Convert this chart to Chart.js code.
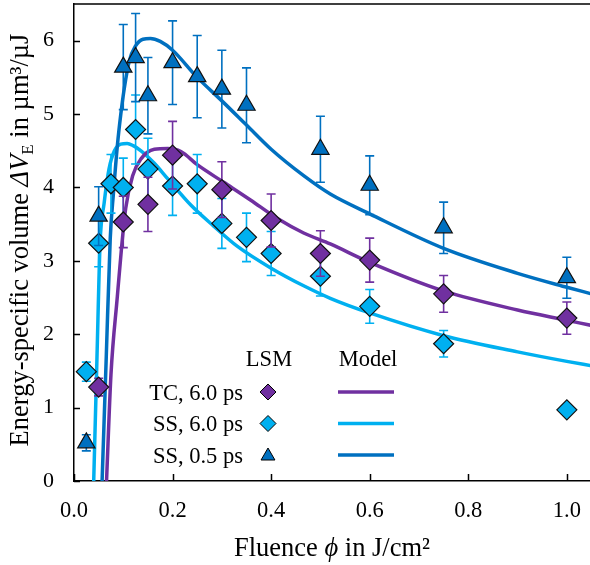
<!DOCTYPE html>
<html>
<head>
<meta charset="utf-8">
<script src="https://cdn.jsdelivr.net/npm/chart.js@4.4.0/dist/chart.umd.min.js"></script>
<style>
  body { margin: 0; background: #fff; }
</style>
</head>
<body>
<canvas id="chart" width="590" height="565"></canvas>
<script>
// series names / colours
const seriesNames = ['TC, 6.0 ps', 'SS, 6.0 ps', 'SS, 0.5 ps'];
const seriesColors = ['#7030A0', '#00B0F0', '#0070C0'];

// LSM measurements (fluence in J/cm², volume in µm³/µJ, error = half bar)
const tcX   = [0.05, 0.1, 0.15, 0.2, 0.3, 0.4, 0.5, 0.6, 0.75, 1.0];
const tcY   = [1.28, 3.53, 3.77, 4.44, 3.97, 3.55, 3.10, 3.01, 2.55, 2.22];
const tcErr = [0.12, 0.35, 0.37, 0.46, 0.38, 0.36, 0.31, 0.30, 0.25, 0.22];

const ss6X   = [0.025, 0.05, 0.075, 0.1, 0.125, 0.15, 0.2, 0.25, 0.3, 0.35, 0.4, 0.5, 0.6, 0.75, 1.0];
const ss6Y   = [1.49, 3.24, 4.05, 4.00, 4.79, 4.25, 4.02, 4.05, 3.51, 3.32, 3.10, 2.79, 2.38, 1.87, 0.97];
const ss6Err = [0.13, 0.32, 0.40, 0.40, 0.47, 0.42, 0.40, 0.40, 0.34, 0.33, 0.30, 0.27, 0.23, 0.18, 0.06];

const ss05X   = [0.025, 0.05, 0.1, 0.125, 0.15, 0.2, 0.25, 0.3, 0.35, 0.5, 0.6, 0.75, 1.0];
const ss05Y   = [0.52, 3.61, 5.64, 5.77, 5.25, 5.70, 5.51, 5.34, 5.12, 4.52, 4.03, 3.45, 2.77];
const ss05Err = [0.11, 0.40, 0.58, 0.60, 0.52, 0.57, 0.56, 0.53, 0.51, 0.45, 0.40, 0.35, 0.28];

// model curves
const modelTcX = [0.066, 0.075, 0.088, 0.0965, 0.105, 0.119, 0.136, 0.163, 0.19, 0.217, 0.25, 0.304, 0.358, 0.412, 0.466, 0.52, 0.6, 0.75, 0.9, 1.0, 1.05];
const modelTcY = [0, 1.45, 2.52, 3.18, 3.72, 4.16, 4.39, 4.52, 4.53, 4.49, 4.31, 4.07, 3.83, 3.58, 3.38, 3.23, 2.98, 2.59, 2.33, 2.19, 2.12];

const modelSs6X = [0.040, 0.0465, 0.053, 0.061, 0.071, 0.082, 0.095, 0.108, 0.12, 0.136, 0.163, 0.19, 0.237, 0.284, 0.331, 0.4, 0.466, 0.52, 0.6, 0.75, 0.9, 1.0, 1.05];
const modelSs6Y = [0, 1.65, 3.25, 3.78, 4.25, 4.50, 4.59, 4.60, 4.57, 4.50, 4.33, 4.12, 3.76, 3.47, 3.20, 2.90, 2.66, 2.49, 2.29, 1.98, 1.76, 1.63, 1.57];

const modelSs05X = [0.057, 0.0655, 0.0735, 0.080, 0.088, 0.095, 0.102, 0.112, 0.125, 0.14, 0.155, 0.175, 0.2, 0.25, 0.3, 0.35, 0.4, 0.466, 0.52, 0.6, 0.75, 0.9, 1.0, 1.05];
const modelSs05Y = [0, 1.70, 3.30, 3.92, 4.57, 5.00, 5.35, 5.72, 5.93, 6.02, 6.03, 5.99, 5.87, 5.50, 5.18, 4.85, 4.52, 4.16, 3.91, 3.64, 3.17, 2.83, 2.64, 2.55];

// tick labels
const xTickLabels = ['0.0', '0.2', '0.4', '0.6', '0.8', '1.0'];
const yTickLabels = ['0', '1', '2', '3', '4', '5', '6'];

const FONT = "'Liberation Serif', 'Times New Roman', serif";

function pts(xs, ys) { return xs.map((x, i) => ({ x: x, y: ys[i] })); }

// error bars, drawn just before each marker set
const errorBars = {
  id: 'errorBars',
  beforeDatasetDraw(chart, args) {
    const ds = chart.data.datasets[args.index];
    if (!ds.errors) return;
    const ctx = chart.ctx, xs = chart.scales.x, ys = chart.scales.y;
    const a = chart.chartArea;
    ctx.save();
    ctx.beginPath();
    ctx.rect(a.left, a.top, a.right - a.left, a.bottom - a.top);
    ctx.clip();
    ctx.strokeStyle = ds.backgroundColor;
    ctx.lineWidth = 1.6;
    ds.data.forEach((p, i) => {
      const e = ds.errors[i];
      const px = xs.getPixelForValue(p.x);
      const top = ys.getPixelForValue(p.y + e), bot = ys.getPixelForValue(p.y - e);
      ctx.beginPath();
      ctx.moveTo(px, top); ctx.lineTo(px, bot);
      ctx.moveTo(px - 4.5, top); ctx.lineTo(px + 4.5, top);
      ctx.moveTo(px - 4.5, bot); ctx.lineTo(px + 4.5, bot);
      ctx.stroke();
    });
    ctx.restore();
  }
};

// inward tick marks + top frame line
const frame = {
  id: 'frame',
  afterDraw(chart) {
    const ctx = chart.ctx, a = chart.chartArea;
    const xs = chart.scales.x, ys = chart.scales.y;
    ctx.save();
    ctx.strokeStyle = '#000';
    ctx.lineWidth = 1.5;
    ctx.beginPath();
    ctx.moveTo(a.left, a.top); ctx.lineTo(a.right, a.top);
    xs.ticks.forEach(t => {
      const px = Math.round(xs.getPixelForValue(t.value)) + 0.5;
      const major = xTickLabels.includes(t.value.toFixed(1));
      ctx.moveTo(px, a.bottom); ctx.lineTo(px, a.bottom - (major ? 7 : 4.5));
    });
    ys.ticks.forEach(t => {
      const py = Math.round(ys.getPixelForValue(t.value)) + 0.5;
      ctx.moveTo(a.left, py); ctx.lineTo(a.left + 6, py);
    });
    ctx.stroke();
    ctx.restore();
  }
};

// axis titles with italic symbols and subscript
function drawRich(ctx, parts, cx, cy) {
  let total = 0;
  parts.forEach(p => { ctx.font = p.font; total += ctx.measureText(p.t).width; });
  let x = cx - total / 2;
  parts.forEach(p => {
    ctx.font = p.font;
    ctx.fillText(p.t, x, cy + (p.dy || 0));
    x += ctx.measureText(p.t).width;
  });
}

const titles = {
  id: 'titles',
  afterDraw(chart) {
    const ctx = chart.ctx;
    const n = '26.5px ' + FONT, it = 'italic 26.5px ' + FONT, sub = '17px ' + FONT;
    ctx.save();
    ctx.fillStyle = '#000';
    ctx.textBaseline = 'alphabetic';
    drawRich(ctx, [
      { t: 'Fluence ', font: n }, { t: 'ϕ', font: it }, { t: ' in J/cm²', font: n }
    ], 332, 556);
    ctx.translate(28, 240);
    ctx.rotate(-Math.PI / 2);
    drawRich(ctx, [
      { t: 'Energy-specific volume ', font: n }, { t: 'ΔV', font: it },
      { t: 'E', font: sub, dy: 5 }, { t: ' in µm³/µJ', font: n }
    ], 0, 0);
    ctx.restore();
  }
};

// table-like legend inside the plot
const tableLegend = {
  id: 'tableLegend',
  afterDraw(chart) {
    const ctx = chart.ctx;
    const styles = ['rectRot', 'rectRot', 'triangle'];
    const rowsY = [399.5, 431, 462.5];
    ctx.save();
    ctx.fillStyle = '#000';
    ctx.font = '22.5px ' + FONT;
    ctx.textBaseline = 'alphabetic';
    ctx.textAlign = 'center';
    ctx.fillText('LSM', 269, 366);
    ctx.fillText('Model', 368, 366);
    seriesNames.forEach((name, i) => {
      const y = rowsY[i];
      const my = y - 7.5;
      ctx.fillStyle = '#000';
      ctx.textAlign = 'right';
      ctx.fillText(name, 243, y);
      ctx.fillStyle = seriesColors[i];
      ctx.strokeStyle = '#000';
      ctx.lineWidth = 1;
      Chart.helpers.drawPoint(ctx, { pointStyle: styles[i], radius: 8, rotation: 0, borderWidth: 1 }, 268, my + (i === 2 ? 1 : 0));
      ctx.strokeStyle = seriesColors[i];
      ctx.lineWidth = 3.5;
      ctx.beginPath();
      ctx.moveTo(338, my); ctx.lineTo(394, my);
      ctx.stroke();
    });
    ctx.restore();
  }
};

function modelSet(xs, ys, i) {
  return {
    type: 'line',
    label: seriesNames[i] + ' model',
    data: pts(xs, ys),
    borderColor: seriesColors[i],
    borderWidth: 3.5,
    pointRadius: 0,
    fill: false,
    cubicInterpolationMode: 'monotone',
    order: 2
  };
}

function lsmSet(xs, ys, errs, i, style, r) {
  return {
    type: 'scatter',
    label: seriesNames[i],
    data: pts(xs, ys),
    errors: errs,
    backgroundColor: seriesColors[i],
    borderColor: '#111',
    borderWidth: 1.2,
    pointStyle: style,
    pointRadius: r,
    pointHoverRadius: r,
    order: 1
  };
}

// drop the label overhang padding so the plot area fills the canvas like the original
function noPad(s) { s.paddingTop = 0; s.paddingBottom = 0; s.paddingLeft = 0; s.paddingRight = 0; }

new Chart(document.getElementById('chart'), {
  data: {
    datasets: [
      modelSet(modelSs05X, modelSs05Y, 2),
      modelSet(modelTcX, modelTcY, 0),
      modelSet(modelSs6X, modelSs6Y, 1),
      lsmSet(ss05X, ss05Y, ss05Err, 2, 'triangle', 10),
      lsmSet(tcX, tcY, tcErr, 0, 'rectRot', 10),
      lsmSet(ss6X, ss6Y, ss6Err, 1, 'rectRot', 10)
    ]
  },
  options: {
    responsive: false,
    animation: false,
    layout: { autoPadding: false, padding: { top: 4, left: 0, right: 0, bottom: 0 } },
    plugins: { legend: { display: false }, tooltip: { enabled: false } },
    scales: {
      x: {
        type: 'linear',
        min: 0,
        max: 1.047,
        // ticks are drawn by the frame plugin; tickLength only spaces the labels
        grid: { display: false, drawTicks: true, tickLength: 17 },
        border: { display: true, color: '#000', width: 1.5 },
        ticks: {
          stepSize: 0.1,
          includeBounds: false,
          autoSkip: false,
          maxRotation: 0,
          padding: 0,
          color: '#000',
          font: { family: FONT, size: 22.5 },
          callback: v => { const s = v.toFixed(1); return xTickLabels.includes(s) ? s : null; }
        },
        afterFit: s => { s.height = 84; noPad(s); }
      },
      y: {
        type: 'linear',
        min: 0,
        max: 6.5,
        grid: { display: false, drawTicks: true, tickLength: 20 },
        border: { display: true, color: '#000', width: 1.5 },
        ticks: {
          stepSize: 0.5,
          includeBounds: false,
          autoSkip: false,
          padding: 0,
          color: '#000',
          font: { family: FONT, size: 22 },
          callback: v => { const s = String(v); return yTickLabels.includes(s) ? s : null; }
        },
        afterFit: s => { s.width = 74; noPad(s); }
      }
    }
  },
  plugins: [errorBars, frame, titles, tableLegend]
});
</script>
</body>
</html>
